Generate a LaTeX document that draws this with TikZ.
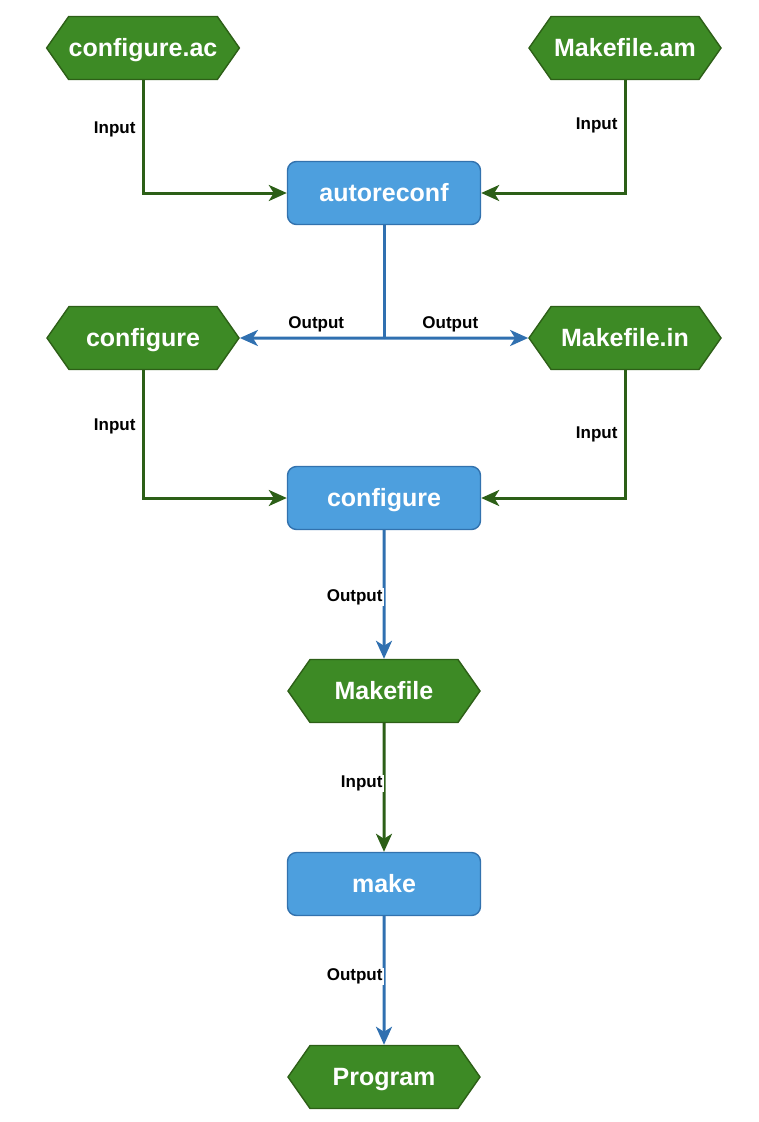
\documentclass[tikz,border=0pt]{standalone}
\usepackage{fontspec}
\setmainfont{Liberation Sans}
\usetikzlibrary{shapes.symbols,arrows.meta}
\definecolor{hexfill}{HTML}{3D8A25}
\definecolor{hexdraw}{HTML}{2D5F17}
\definecolor{boxfill}{HTML}{4D9FDE}
\definecolor{boxdraw}{HTML}{3272AE}
\definecolor{ingreen}{HTML}{2C5F17}
\definecolor{outblue}{HTML}{3070B0}
\begin{document}
\begin{tikzpicture}
		[x=1pt,y=-1pt,
		hex/.style ={signal, signal to=east and west, signal pointer angle=110, draw=hexdraw, line width=1.4pt, fill=hexfill, text=white, font=\fontsize{25}{30}\selectfont\bfseries, minimum width=192pt, minimum height=63pt, inner xsep=0pt, text height=20pt, text depth=4pt},
		block/.style ={rectangle, draw=boxdraw, line width=1.4pt, fill=boxfill, text=white, font=\fontsize{25}{30}\selectfont\bfseries, rounded corners=9pt, minimum width=193pt, minimum height=63pt, text height=20pt, text depth=4pt},
		inline/.style ={draw=ingreen, line width=3pt, -{Stealth[length=18pt,width=16pt,inset=5pt]}},
		outline/.style ={draw=outblue, line width=3pt, -{Stealth[length=18pt,width=16pt,inset=5pt]}},
		lbl/.style = {font=\fontsize{17}{20}\selectfont\bfseries, text=black, inner sep=1pt},
		]
		\useasboundingbox (0,0) rectangle (759,1122);

		\draw (143,48) node[hex] (CA) {configure.ac};
		\draw (625,48) node[hex] (MA) {Makefile.am};
		\draw (384,193) node[block] (AR) {autoreconf};
		\draw (143,338) node[hex] (CF1) {configure};
		\draw (625,338) node[hex] (MI) {Makefile.in};
		\draw (384,498) node[block] (CF2) {configure};
		\draw (384,691) node[hex] (MF) {Makefile};
		\draw (384,884) node[block] (MK) {make};
		\draw (384,1077) node[hex] (PR) {Program};
		\coordinate (J) at (384,338);

		\path[inline]
		(CA) |- node[lbl, left=5pt, pos=0.22] {Input} (AR);
		\path[inline]
		(MA) |- node[lbl, left=5pt, pos=0.2] {Input} (AR);
		\draw[outblue, line width=3pt] (AR) -- (J);
		\path[outline]
		(J) -- node[lbl, above=3pt, pos=0.47] {Output} (CF1);
		\path[outline]
		(J) -- node[lbl, above=3pt, pos=0.46] {Output} (MI);
		\path[inline]
		(CF1) |- node[lbl, left=5pt, pos=0.22] {Input} (CF2);
		\path[inline]
		(MI) |- node[lbl, left=5pt, pos=0.25] {Input} (CF2);
		\path[outline]
		(CF2) -- node[lbl, left=-1pt, fill=white, pos=0.52] {Output} (MF);
		\path[inline]
		(MF) -- node[lbl, left=-1pt, fill=white, pos=0.47] {Input} (MK);
		\path[outline]
		(MK) -- node[lbl, left=-1pt, fill=white, pos=0.47] {Output} (PR);
	\end{tikzpicture}
\end{document}
